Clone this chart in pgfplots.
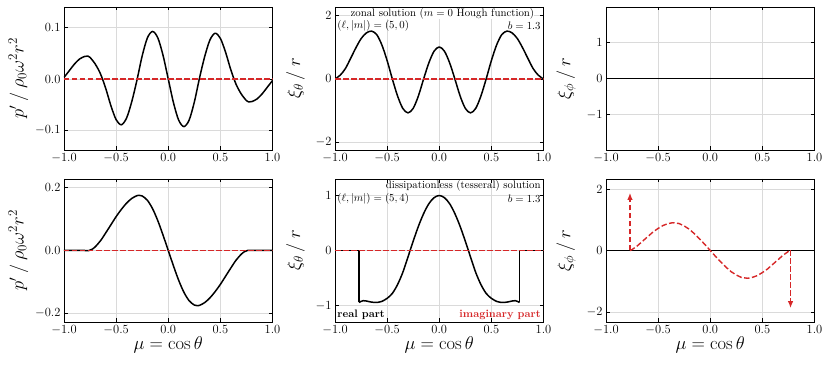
\RequirePackage{fix-cm}
\documentclass[border=0pt]{standalone}
\usepackage{pgfplots}
\pgfplotsset{compat=1.18}
\usetikzlibrary{arrows.meta}
\definecolor{tabred}{RGB}{214,39,40}
\definecolor{gridgray}{RGB}{218,218,218}
\newcommand\tickfont{\fontsize{12.5}{14}\selectfont}
\newcommand\labfont{\fontsize{18.5}{21}\selectfont}
\newcommand\annfont{\fontsize{10.8}{12.5}\selectfont}
\pgfplotsset{
  panel/.style={
    scale only axis, width=208.5pt, height=143pt, anchor=south west,
    xmin=-1, xmax=1, xtick={-1,-0.5,0,0.5,1},
    grid=major, major grid style={line width=0.6pt, draw=gridgray},
    major tick length=3.5pt, tick style={black, line width=0.7pt},
    axis line style={line width=0.8pt},
    x tick label style={/pgf/number format/.cd, fixed, fixed zerofill, precision=1, /tikz/.cd},
    ticklabel style={font=\tickfont},
    label style={font=\labfont},
    every axis x label/.append style={yshift=5pt},
    every axis plot/.append style={line join=round},
  },
  xilab/.style={every axis y label/.append style={yshift=4pt}},
  blk/.style={black, line width=1.5pt},
  rdash/.style={tabred, line width=1.4pt, dash pattern=on 5.5pt off 2.5pt},
}
\begin{document}
\begin{tikzpicture}
\useasboundingbox (0pt,0pt) rectangle (831pt,367pt);

% ---------- Panel 1 ----------
\begin{axis}[panel, at={(64pt,217pt)}, ymin=-0.138, ymax=0.140, ytick={-0.1,0,0.1},
  y tick label style={/pgf/number format/.cd, fixed, fixed zerofill, precision=1, /tikz/.cd},
  ylabel={$p'\mathbin{/}\rho_0\omega^2r^2$}]
\addplot[blk, smooth] coordinates {
(-1.00,0.003) (-0.95,0.016) (-0.90,0.029) (-0.85,0.039) (-0.80,0.0440) (-0.77,0.0445) (-0.75,0.042)
(-0.70,0.029) (-0.65,0.010) (-0.60,-0.018) (-0.55,-0.052) (-0.50,-0.079) (-0.45,-0.089)
(-0.40,-0.076) (-0.35,-0.044) (-0.30,-0.002) (-0.25,0.045) (-0.20,0.080) (-0.15,0.0925) (-0.10,0.080)
(-0.05,0.046) (0,0) (0.05,-0.046) (0.10,-0.080) (0.15,-0.0925) (0.20,-0.080) (0.25,-0.045) (0.30,0.002)
(0.35,0.044) (0.40,0.076) (0.45,0.089) (0.50,0.079) (0.55,0.052) (0.60,0.018)
(0.65,-0.010) (0.70,-0.029) (0.75,-0.042) (0.77,-0.0445) (0.80,-0.0440) (0.85,-0.039) (0.90,-0.029)
(0.95,-0.016) (1.00,-0.003)};
\addplot[rdash] coordinates {(-1,0) (1,0)};
\end{axis}

% ---------- Panel 2 ----------
\begin{axis}[panel, xilab, at={(335pt,217pt)}, ymin=-2.24, ymax=2.27, ytick={-2,0,2},
  ylabel={$\xi_\theta\mathbin{/}r$}]
\addplot[blk, smooth] coordinates {
(-1.00,0) (-0.95,0.12) (-0.90,0.33) (-0.85,0.65) (-0.80,0.98) (-0.75,1.27) (-0.70,1.45) (-0.65,1.51)
(-0.60,1.40) (-0.55,1.07) (-0.50,0.58) (-0.45,0) (-0.40,-0.535) (-0.35,-0.927) (-0.30,-1.07)
(-0.25,-0.927) (-0.20,-0.535) (-0.15,0) (-0.10,0.505) (-0.05,0.875) (0,1.01)
(0.05,0.875) (0.10,0.505) (0.15,0) (0.20,-0.535) (0.25,-0.927) (0.30,-1.07) (0.35,-0.927)
(0.40,-0.535) (0.45,0) (0.50,0.58) (0.55,1.07) (0.60,1.40) (0.65,1.51) (0.70,1.45) (0.75,1.27)
(0.80,0.98) (0.85,0.65) (0.90,0.33) (0.95,0.12) (1.00,0)};
\addplot[rdash] coordinates {(-1,0) (1,0)};
\node[font=\annfont, fill=white, inner sep=0.2pt] at (rel axis cs:0.515,0.953) {zonal solution ($m=0$ Hough function)};
\node[font=\annfont, anchor=west, inner sep=0.6pt] at (rel axis cs:0.008,0.866) {$(\ell,|m|)=(5,0)$};
\node[font=\annfont, anchor=east, inner sep=0.6pt] at (rel axis cs:0.99,0.866) {$b=1.3$};
\end{axis}

% ---------- Panel 3 ----------
\begin{axis}[panel, xilab, at={(606pt,217pt)}, ymin=-1.98, ymax=1.98, ytick={-1,0,1},
  ylabel={$\xi_\phi\mathbin{/}r$}]
\addplot[rdash] coordinates {(-1,0) (1,0)};
\addplot[blk] coordinates {(-1,0) (1,0)};
\end{axis}

% ---------- Panel 4 ----------
\begin{axis}[panel, at={(64pt,45pt)}, ymin=-0.228, ymax=0.228, ytick={-0.2,0,0.2},
  y tick label style={/pgf/number format/.cd, fixed, fixed zerofill, precision=1, /tikz/.cd},
  ylabel={$p'\mathbin{/}\rho_0\omega^2r^2$}, xlabel={$\mu=\cos\theta$}]
\addplot[blk, smooth] coordinates {
(-1,0) (-0.9,0) (-0.8,0) (-0.76,0) (-0.73,0.004) (-0.70,0.012) (-0.65,0.031) (-0.60,0.056) (-0.55,0.082)
(-0.50,0.108) (-0.45,0.131) (-0.40,0.151) (-0.35,0.166) (-0.30,0.175) (-0.28,0.176) (-0.25,0.174)
(-0.20,0.160) (-0.15,0.133) (-0.10,0.095) (-0.05,0.049) (0,0)
(0.05,-0.049) (0.10,-0.095) (0.15,-0.133) (0.20,-0.160) (0.25,-0.174) (0.28,-0.176) (0.30,-0.175)
(0.35,-0.166) (0.40,-0.151) (0.45,-0.131) (0.50,-0.108) (0.55,-0.082) (0.60,-0.056) (0.65,-0.031)
(0.70,-0.012) (0.73,-0.004) (0.76,0) (0.8,0) (0.9,0) (1,0)};
\addplot[rdash] coordinates {(-1,0) (1,0)};
\end{axis}

% ---------- Panel 5 ----------
\begin{axis}[panel, xilab, at={(335pt,45pt)}, ymin=-1.3, ymax=1.3, ytick={-1,0,1},
  ylabel={$\xi_\theta\mathbin{/}r$}, xlabel={$\mu=\cos\theta$}]
\addplot[blk] coordinates {(-1,0) (-0.77,0) (-0.77,-0.945)};
\addplot[blk] coordinates {(0.77,-0.945) (0.77,0) (1,0)};
\addplot[blk, smooth] coordinates {
(-0.77,-0.945) (-0.75,-0.925) (-0.73,-0.912) (-0.70,-0.918) (-0.66,-0.935) (-0.62,-0.945) (-0.58,-0.94)
(-0.55,-0.925) (-0.50,-0.87) (-0.45,-0.78) (-0.40,-0.62) (-0.35,-0.40) (-0.30,-0.12) (-0.28,0)
(-0.25,0.17) (-0.20,0.44) (-0.15,0.67) (-0.10,0.85) (-0.05,0.96) (0,1.0)
(0.05,0.96) (0.10,0.85) (0.15,0.67) (0.20,0.44) (0.25,0.17) (0.28,0) (0.30,-0.12) (0.35,-0.40)
(0.40,-0.62) (0.45,-0.78) (0.50,-0.87) (0.55,-0.925) (0.58,-0.94) (0.62,-0.945) (0.66,-0.935)
(0.70,-0.918) (0.73,-0.912) (0.75,-0.925) (0.77,-0.945)};
\addplot[rdash] coordinates {(-1,0) (1,0)};
\node[font=\annfont, anchor=east, inner sep=0.6pt] at (rel axis cs:0.99,0.955) {dissipationless (tesseral) solution};
\node[font=\annfont, anchor=west, inner sep=0.6pt] at (rel axis cs:0.008,0.86) {$(\ell,|m|)=(5,4)$};
\node[font=\annfont, anchor=east, inner sep=0.6pt] at (rel axis cs:0.99,0.86) {$b=1.3$};
\node[font=\annfont\bfseries, anchor=west, inner sep=0.6pt] at (rel axis cs:0.008,0.049) {real part};
\node[font=\annfont\bfseries, text=tabred, anchor=east, inner sep=0.6pt] at (rel axis cs:0.99,0.049) {imaginary part};
\end{axis}

% ---------- Panel 6 ----------
\begin{axis}[panel, xilab, at={(606pt,45pt)}, ymin=-2.33, ymax=2.33, ytick={-2,0,2},
  ylabel={$\xi_\phi\mathbin{/}r$}, xlabel={$\mu=\cos\theta$}]
\addplot[rdash] coordinates {(-1,0) (-0.77,0)};
\addplot[rdash] coordinates {(0.77,0) (1,0)};
\addplot[blk] coordinates {(-1,0) (1,0)};
\addplot[rdash] coordinates {
(-0.77,0) (-0.75,0.03) (-0.70,0.15) (-0.65,0.30) (-0.60,0.45) (-0.55,0.60) (-0.50,0.72) (-0.45,0.82)
(-0.40,0.88) (-0.36,0.905) (-0.30,0.88) (-0.25,0.80) (-0.20,0.69) (-0.15,0.54) (-0.10,0.37)
(-0.05,0.19) (0,0) (0.05,-0.19) (0.10,-0.37) (0.15,-0.54) (0.20,-0.69) (0.25,-0.80) (0.30,-0.88)
(0.36,-0.905) (0.40,-0.88) (0.45,-0.82) (0.50,-0.72) (0.55,-0.60) (0.60,-0.45) (0.65,-0.30)
(0.70,-0.15) (0.75,-0.03) (0.77,0)};
\addplot[rdash, -{Latex[length=7pt,width=5.5pt]}] coordinates {(-0.77,0) (-0.77,1.88)};
\addplot[rdash, -{Latex[length=7pt,width=5.5pt]}] coordinates {(0.77,0) (0.77,-1.88)};
\end{axis}
\end{tikzpicture}
\end{document}
